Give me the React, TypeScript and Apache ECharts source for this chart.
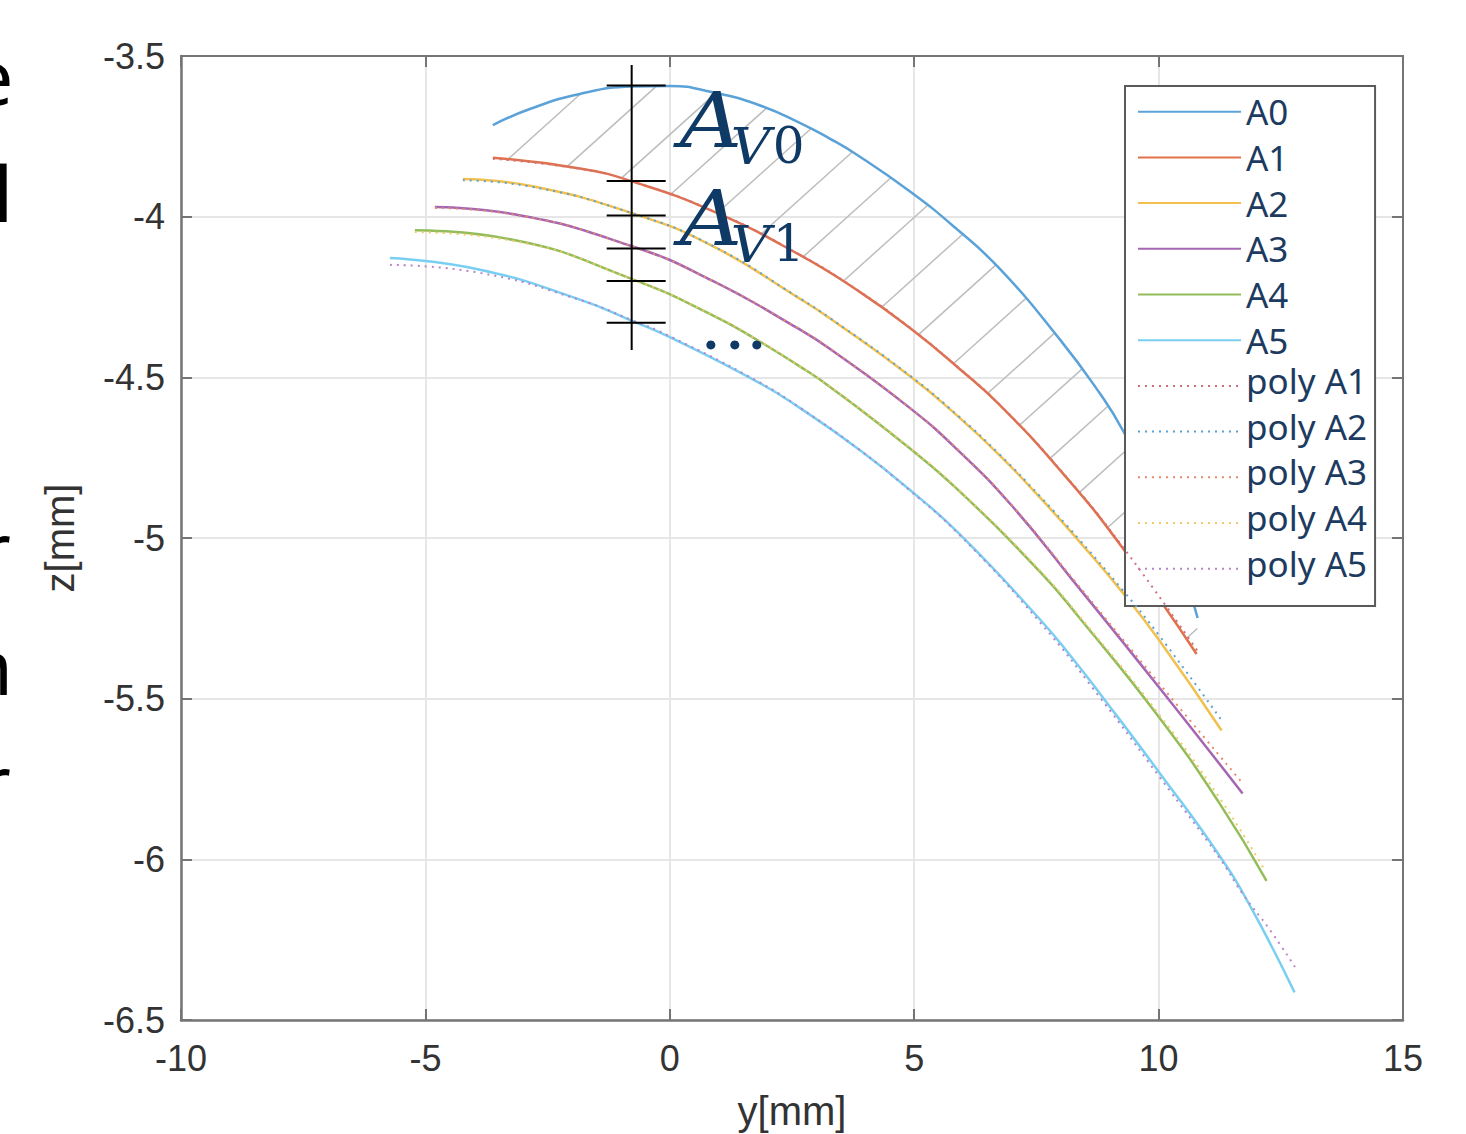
import React, { useEffect, useRef } from 'react';
import * as echarts from 'echarts';

// ---- data: [y (mm), z (mm)] ----
const A0 = [[-3.62, -3.715], [-2.863, -3.665], [-1.84, -3.618], [-0.757, -3.595], [0, -3.593], [0.879, -3.613], [1.779, -3.650], [2.658, -3.708], [3.272, -3.757], [3.804, -3.805], [4.908, -3.921], [5.828, -4.033], [6.748, -4.162], [7.975, -4.381], [8.793, -4.549], [9.264, -4.664], [10.02, -4.897], [10.798, -5.249]];
const A1 = [[-3.62, -3.817], [-1.84, -3.850], [-0.757, -3.891], [0.879, -3.983], [2.658, -4.119], [3.885, -4.234], [4.908, -4.346], [5.93, -4.474], [6.748, -4.586], [8.037, -4.798], [9.264, -5.031], [10.777, -5.361]];
const A2 = [[-4.233, -3.883], [-2.863, -3.904], [-0.757, -3.990], [0.879, -4.092], [2.658, -4.255], [3.272, -4.316], [4.908, -4.496], [5.93, -4.626], [6.748, -4.743], [7.566, -4.873], [8.384, -5.012], [9.264, -5.170], [10.02, -5.320], [11.288, -5.599]];
const A3 = [[-4.806, -3.970], [-3.211, -3.992], [-0.757, -4.093], [0.879, -4.200], [2.658, -4.351], [3.272, -4.411], [4.908, -4.595], [5.93, -4.732], [6.994, -4.899], [8.241, -5.131], [10.02, -5.467], [11.718, -5.795]];
const A4 = [[-5.215, -4.042], [-3.211, -4.072], [-0.757, -4.195], [0.879, -4.307], [1.779, -4.383], [2.658, -4.466], [3.272, -4.529], [4.908, -4.721], [5.93, -4.855], [7.566, -5.104], [8.384, -5.249], [10.02, -5.560], [11.247, -5.826], [12.209, -6.067]];
const A5 = [[-5.726, -4.129], [-3.885, -4.165], [-1.84, -4.258], [-0.777, -4.324], [0, -4.375], [1.84, -4.518], [2.658, -4.595], [3.885, -4.726], [4.908, -4.850], [5.93, -4.988], [7.566, -5.252], [8.241, -5.375], [8.793, -5.483], [10.02, -5.731], [11.247, -5.989], [11.922, -6.159], [12.781, -6.414]];
const PA1 = [[-3.62, -3.820], [-1.84, -3.851], [-0.757, -3.891], [0.879, -3.982], [2.658, -4.118], [3.885, -4.233], [4.908, -4.345], [5.93, -4.473], [6.748, -4.585], [8.037, -4.796], [9.264, -5.027], [10.797, -5.352]];
const PA2 = [[-4.233, -3.887], [-2.863, -3.906], [-0.757, -3.990], [0.879, -4.091], [2.658, -4.254], [3.272, -4.315], [4.908, -4.494], [5.93, -4.624], [6.748, -4.740], [7.566, -4.869], [8.384, -5.006], [9.264, -5.162], [10.02, -5.305], [11.288, -5.567]];
const PA3 = [[-4.806, -3.973], [-3.211, -3.993], [-0.757, -4.093], [0.879, -4.200], [2.658, -4.350], [3.272, -4.410], [4.908, -4.594], [5.93, -4.730], [6.994, -4.897], [8.241, -5.126], [10.02, -5.454], [11.718, -5.763]];
const PA4 = [[-5.215, -4.048], [-3.211, -4.075], [-0.757, -4.195], [0.879, -4.306], [1.779, -4.382], [2.658, -4.465], [3.272, -4.528], [4.908, -4.719], [5.93, -4.853], [7.566, -5.100], [8.384, -5.244], [10.02, -5.551], [11.247, -5.809], [12.168, -6.033]];
const PA5 = [[-5.726, -4.150], [-3.885, -4.175], [-1.84, -4.259], [-0.777, -4.322], [0, -4.372], [1.84, -4.516], [2.658, -4.594], [3.885, -4.726], [4.908, -4.852], [5.93, -4.991], [7.566, -5.261], [8.793, -5.495], [10.02, -5.744], [11.247, -5.996], [11.718, -6.107], [12.270, -6.218], [12.802, -6.338]];

const SOLID_NAMES = ['A0', 'A1', 'A2', 'A3', 'A4', 'A5'];
const POLY_NAMES = ['poly A1', 'poly A2', 'poly A3', 'poly A4', 'poly A5'];
const X_TICKS = { min: -10, max: 15, interval: 5 };
const Y_TICKS = { min: -6.5, max: -3.5, interval: 0.5 };

// annotation (data coordinates)
const ANNOT_Y = -0.78;
const ANNOT_SPAN = [-3.528, -4.415];
const ANNOT_TICKS = [-3.592, -3.889, -3.996, -4.099, -4.200, -4.330];
const LABEL_AV = [
  { idx: '0', at: [0.12, -3.783] },
  { idx: '1', at: [0.12, -4.088] },
];
const DOTS = [[0.84, -4.399], [1.33, -4.399], [1.78, -4.399]];
const HATCH_ANCHOR = [-3.17, -3.802];

// left-edge text fragments of the neighbouring page
const EDGE_TEXT = ['e', 'l', 'r', 'n', 'r'];

// ---- styles ----
const SOLID_COLORS = ['#5aa2d8', '#e0714a', '#f1c04f', '#a566b3', '#93bd5a', '#79cff2'];
const POLY_COLORS = ['#d0707f', '#5aa2d8', '#e88a6a', '#f3c86a', '#b985c8'];
const HATCH = { angle: 42, spacing: 45, color: '#bdbdbd', width: 1.5 };
const NAVY = '#0f3a66';
const AX = '#757575';
const EDGE_POS = [[-29.5, 75.5], [-6.4, 192.5], [-20.4, 548.5], [-34, 665.5], [-20.4, 781.5]];

function hatchRender(_params: any, api: any) {
  const top = A0.map((p) => api.coord(p));
  const bot = A1.map((p) => api.coord(p)).reverse();
  const poly = top.concat(bot);
  const th = (HATCH.angle * Math.PI) / 180;
  const dx = Math.cos(th), dy = -Math.sin(th);
  const nx = Math.sin(th), ny = Math.cos(th);
  const a = api.coord(HATCH_ANCHOR);
  const c0 = nx * a[0] + ny * a[1];
  let cmin = Infinity, cmax = -Infinity;
  poly.forEach((p: number[]) => {
    const c = nx * p[0] + ny * p[1];
    cmin = Math.min(cmin, c);
    cmax = Math.max(cmax, c);
  });
  const children: any[] = [];
  const k0 = Math.ceil((cmin - c0) / HATCH.spacing);
  const k1 = Math.floor((cmax - c0) / HATCH.spacing);
  for (let k = k0; k <= k1; k++) {
    const c = c0 + k * HATCH.spacing;
    const hits: any[] = [];
    for (let i = 0; i < poly.length; i++) {
      const p = poly[i], q = poly[(i + 1) % poly.length];
      const cp = nx * p[0] + ny * p[1] - c;
      const cq = nx * q[0] + ny * q[1] - c;
      if ((cp < 0) !== (cq < 0)) {
        const t = cp / (cp - cq);
        const x = p[0] + t * (q[0] - p[0]);
        const y = p[1] + t * (q[1] - p[1]);
        hits.push({ s: dx * x + dy * y, x, y });
      }
    }
    hits.sort((u, v) => u.s - v.s);
    for (let j = 0; j + 1 < hits.length; j += 2) {
      children.push({
        type: 'line',
        shape: { x1: hits[j].x, y1: hits[j].y, x2: hits[j + 1].x, y2: hits[j + 1].y },
        style: { stroke: HATCH.color, lineWidth: HATCH.width },
      });
    }
  }
  return { type: 'group', children };
}

function annotRender(_params: any, api: any) {
  const children: any[] = [];
  const t = api.coord([ANNOT_Y, ANNOT_SPAN[0]]);
  const b = api.coord([ANNOT_Y, ANNOT_SPAN[1]]);
  children.push({ type: 'line', shape: { x1: t[0], y1: t[1], x2: b[0], y2: b[1] }, style: { stroke: '#000', lineWidth: 2 } });
  ANNOT_TICKS.forEach((z) => {
    const p = api.coord([ANNOT_Y, z]);
    children.push({ type: 'line', shape: { x1: p[0] - 25, y1: p[1], x2: p[0] + 34, y2: p[1] }, style: { stroke: '#000', lineWidth: 2 } });
  });
  LABEL_AV.forEach((l) => {
    const p = api.coord(l.at);
    const base = { fontFamily: 'DejaVu Serif', fill: NAVY, align: 'left', textAlign: 'left', verticalAlign: 'middle', textVerticalAlign: 'middle', x: 0, y: 0 };
    children.push({ type: 'text', x: p[0] + 4, y: p[1] - 27, scaleX: 1.14, scaleY: 1.02, style: { ...base, text: 'A', fontSize: 76, fontStyle: 'italic' } });
    children.push({ type: 'text', x: p[0] + 55, y: p[1] - 1, scaleX: 1.1, style: { ...base, text: 'V', fontSize: 50, fontStyle: 'italic' } });
    children.push({ type: 'text', x: p[0] + 97, y: p[1] - 1, style: { ...base, text: l.idx, fontSize: 50 } });
  });
  DOTS.forEach((d) => {
    const p = api.coord(d);
    children.push({ type: 'circle', shape: { cx: p[0], cy: p[1], r: 4.5 }, style: { fill: NAVY } });
  });
  return { type: 'group', children };
}

const SOLID_DATA = [A0, A1, A2, A3, A4, A5];
const POLY_DATA = [PA1, PA2, PA3, PA4, PA5];

function buildOption() {
  const lineSeries: any[] = [];
  SOLID_NAMES.forEach((n, i) => {
    lineSeries.push({
      type: 'line', name: n, data: SOLID_DATA[i], symbol: 'none', smooth: 0.5, z: 3,
      color: SOLID_COLORS[i], lineStyle: { color: SOLID_COLORS[i], width: 2.5 },
    });
  });
  POLY_NAMES.forEach((n, i) => {
    lineSeries.push({
      type: 'line', name: n, data: POLY_DATA[i], symbol: 'none', smooth: 0.5, z: 4,
      color: POLY_COLORS[i], lineStyle: { color: POLY_COLORS[i], width: 2, type: [2, 5] },
    });
  });
  const axLabel = { fontSize: 36, fontFamily: 'Liberation Sans', color: '#333' };
  const axName = { fontSize: 40, fontFamily: 'Liberation Sans', color: '#333' };
  const textFont = { fontSize: 35, fontFamily: 'Noto Sans', color: '#1d3b60', lineHeight: 35 };
  return {
    animation: false,
    backgroundColor: '#fff',
    grid: { left: 181, right: 63, top: 56, bottom: 114, containLabel: false, outerBoundsMode: 'none' },
    xAxis: [
      {
        type: 'value', position: 'bottom', ...X_TICKS,
        name: 'y[mm]', nameLocation: 'middle', nameGap: 71, nameTextStyle: axName,
        axisLine: { show: true, onZero: false, lineStyle: { color: AX, width: 2.5 } },
        axisTick: { show: true, inside: true, length: 11, lineStyle: { color: AX, width: 2 } },
        axisLabel: { ...axLabel, margin: 20 },
        splitLine: { show: true, lineStyle: { color: '#e6e6e6', width: 2 } },
      },
      {
        type: 'value', position: 'top', ...X_TICKS,
        axisLine: { show: true, onZero: false, lineStyle: { color: AX, width: 2 } },
        axisTick: { show: true, inside: true, length: 11, lineStyle: { color: AX, width: 2 } },
        axisLabel: { show: false }, splitLine: { show: false },
      },
    ],
    yAxis: [
      {
        type: 'value', position: 'left', ...Y_TICKS,
        name: 'z[mm]', nameLocation: 'middle', nameGap: 101, nameTextStyle: axName,
        axisLine: { show: true, onZero: false, lineStyle: { color: AX, width: 2.5 } },
        axisTick: { show: true, inside: true, length: 11, lineStyle: { color: AX, width: 2 } },
        axisLabel: { ...axLabel, margin: 16 },
        splitLine: { show: true, lineStyle: { color: '#e6e6e6', width: 2 } },
      },
      {
        type: 'value', position: 'right', ...Y_TICKS,
        axisLine: { show: true, onZero: false, lineStyle: { color: AX, width: 2 } },
        axisTick: { show: true, inside: true, length: 11, lineStyle: { color: AX, width: 2 } },
        axisLabel: { show: false }, splitLine: { show: false },
      },
    ],
    legend: {
      show: true, orient: 'vertical', left: 1125, top: 86,
      data: [...SOLID_NAMES, ...POLY_NAMES],
      selectedMode: false,
      backgroundColor: '#fff', borderColor: '#5a5a5a', borderWidth: 2, borderRadius: 0,
      padding: [2.85, 8, 14.45, 12],
      itemWidth: 103, itemHeight: 4, itemGap: 0,
      itemStyle: { opacity: 0 },
      textStyle: {
        ...textFont,
        rich: {
          a: { ...textFont, padding: [5.35, 0, 5.35, 0] },
          p: { ...textFont, padding: [0, 0, 10.7, 0] },
        },
      },
      formatter: (name: string) => (name.indexOf('poly') === 0 ? `{p|${name}}` : `{a|${name}}`),
    },
    graphic: EDGE_TEXT.map((t, i) => ({
      type: 'text', silent: true,
      style: {
        text: t, x: EDGE_POS[i][0], y: EDGE_POS[i][1], fontSize: 76, fontFamily: 'Noto Sans', fill: '#000',
        align: 'left', textAlign: 'left', verticalAlign: 'middle', textVerticalAlign: 'middle',
      },
    })),
    series: [
      { type: 'custom', name: 'hatch', data: [[0, -4]], renderItem: hatchRender, silent: true, z: 2, clip: false },
      ...lineSeries,
      { type: 'custom', name: 'annotation', data: [[ANNOT_Y, ANNOT_SPAN[0]]], renderItem: annotRender, silent: true, z: 10, clip: false },
    ],
  };
}

export default function App() {
  const ref = useRef<HTMLDivElement>(null);
  useEffect(() => {
    const chart = echarts.init(ref.current as HTMLDivElement, null, { renderer: 'svg' });
    chart.setOption(buildOption() as any);
    return () => chart.dispose();
  }, []);
  return (
    <div
      ref={ref}
      style={{ position: 'absolute', left: 0, top: 0, width: 1466, height: 1134, background: '#fff' }}
    />
  );
}
